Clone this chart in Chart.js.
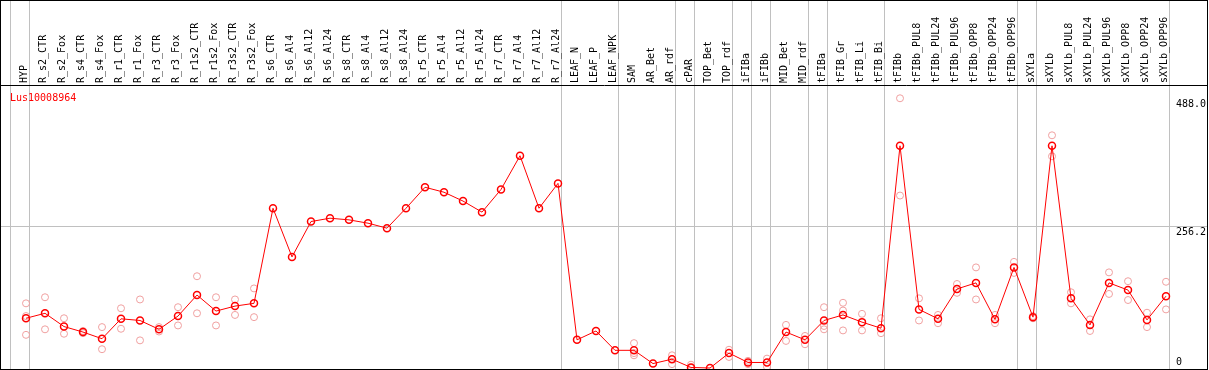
<!DOCTYPE html>
<html>
<head>
<meta charset="utf-8">
<script src="https://cdn.jsdelivr.net/npm/chart.js@4.4.1/dist/chart.umd.min.js"></script>
<style>
  body { margin: 0; background: #fff; }
  #wrap { position: relative; width: 1206px; height: 368px; border: 1px solid #000; }
  #title {
    position: absolute; left: 9px; top: 91px;
    font: 10px/12px "DejaVu Sans Mono", monospace; color: #ff0000;
  }
</style>
</head>
<body>
<div id="wrap">
  <canvas id="chart" width="1206" height="368"></canvas>
  <div id="title">Lus10008964</div>
</div>
<script>
const categories = ['HYP', 'R_s2_CTR', 'R_s2_Fox', 'R_s4_CTR', 'R_s4_Fox', 'R_r1_CTR', 'R_r1_Fox',
  'R_r3_CTR', 'R_r3_Fox', 'R_r1s2_CTR', 'R_r1s2_Fox', 'R_r3s2_CTR', 'R_r3s2_Fox',
  'R_s6_CTR', 'R_s6_Al4', 'R_s6_Al12', 'R_s6_Al24', 'R_s8_CTR', 'R_s8_Al4', 'R_s8_Al12', 'R_s8_Al24',
  'R_r5_CTR', 'R_r5_Al4', 'R_r5_Al12', 'R_r5_Al24', 'R_r7_CTR', 'R_r7_Al4', 'R_r7_Al12', 'R_r7_Al24',
  'LEAF_N', 'LEAF_P', 'LEAF_NPK', 'SAM', 'AR_Bet', 'AR_rdf', 'cPAR', 'TOP_Bet', 'TOP_rdf',
  'iFIBa', 'iFIBb', 'MID_Bet', 'MID_rdf', 'tFIBa', 'tFIB_Gr', 'tFIB_Li', 'tFIB_Bi',
  'tFIBb', 'tFIBb_PUL8', 'tFIBb_PUL24', 'tFIBb_PUL96', 'tFIBb_OPP8', 'tFIBb_OPP24', 'tFIBb_OPP96',
  'sXYLa', 'sXYLb', 'sXYLb_PUL8', 'sXYLb_PUL24', 'sXYLb_PUL96', 'sXYLb_OPP8', 'sXYLb_OPP24', 'sXYLb_OPP96'];

// mean expression per sample
const meanValues = [90, 99, 75, 65, 53, 89, 86, 70, 94, 132, 103, 112, 117,
  289, 201, 265, 271, 268, 262, 253, 289, 327, 318, 302, 282, 323, 384, 289, 334,
  51, 67, 32, 32, 8, 16, 1, 0, 27, 10, 10, 65, 51, 86, 96, 83, 72,
  402, 106, 89, 143, 154, 88, 182, 92, 402, 126, 78, 154, 141, 87, 130];

// individual replicates (null = none)
const rep1 = [117, 128, 90, 67, 74, 108, 124, 74, 110, 166, 128, 124, 144,
  null, null, null, null, null, null, null, null, null, null, null, null, null, null, null, null,
  null, null, null, 45, null, 23, 6, null, 33, 13, 17, 78, 58, 110, 118, 98, 90,
  488, 126, 96, 152, 182, 96, 192, 94, 421, 137, 88, 173, 157, 100, 156];
const rep2 = [94, 70, 62, 63, 34, 71, 50, 66, 77, 99, 77, 96, 92,
  null, null, null, null, null, null, null, null, null, null, null, null, null, null, null, null,
  null, null, null, 27, null, 7, 0, null, 20, 7, 2, 49, 43, 76, 104, 68, 63,
  312, 86, 81, 136, 124, 81, 172, 90, 383, 117, 67, 134, 123, 74, 106];
const rep3 = [60, null, null, null, null, null, null, null, null, null, null, null, null,
  null, null, null, null, null, null, null, null, null, null, null, null, null, null, null, null,
  null, null, null, 23, null, null, null, null, null, null, null, null, null, 70, 68, null, null,
  null, null, null, null, null, null, null, null, null, null, null, null, null, null, null];

// group separators sit just after these sample indices
const separatorAfter = [-1, 0, 28, 31, 34, 35, 37, 38, 39, 41, 42, 45, 52, 53, 60];
const yTickValues = [0, 256.2, 488];

const sepValues = separatorAfter.map(i => i + 0.21);
const toPoints = arr => arr.map((v, i) => ({ x: i, y: v }));
const monoFont = { family: 'DejaVu Sans Mono', size: 10 };
const gridGray = '#c0c0c0';

const repStyle = (data) => ({
  data: toPoints(data),
  showLine: false,
  pointRadius: 3.5,
  pointBorderWidth: 1,
  pointBorderColor: '#f0a0a0',
  pointBackgroundColor: 'rgba(0,0,0,0)',
  order: 2,
});

new Chart(document.getElementById('chart').getContext('2d'), {
  type: 'line',
  data: {
    datasets: [
      {
        data: toPoints(meanValues),
        borderColor: '#ff0000',
        borderWidth: 1,
        pointRadius: 3.5,
        pointBorderWidth: 1.5,
        pointBorderColor: '#ff0000',
        pointBackgroundColor: 'rgba(0,0,0,0)',
        order: 1,
      },
      repStyle(rep1),
      repStyle(rep2),
      repStyle(rep3),
    ],
  },
  options: {
    responsive: false,
    animation: false,
    devicePixelRatio: 1,
    layout: { padding: 0, autoPadding: false },
    plugins: { legend: { display: false }, tooltip: { enabled: false } },
    scales: {
      x: {
        type: 'linear',
        position: 'top',
        min: -25 / 19,
        max: 1181 / 19,
        afterBuildTicks: (scale) => {
          scale.ticks = categories.map((c, i) => ({ value: i }))
            .concat(sepValues.map(v => ({ value: v })))
            .sort((a, b) => a.value - b.value);
        },
        afterFit: (scale) => {
          scale.height = 84;
          scale.paddingLeft = 0;
          scale.paddingRight = 0;
        },
        ticks: {
          autoSkip: false,
          minRotation: 90,
          maxRotation: 90,
          padding: -82,
          labelOffset: 10,
          font: monoFont,
          color: '#000',
          callback: (value) => Number.isInteger(value) ? categories[value] : '',
        },
        grid: {
          color: (ctx) => (ctx.tick && !Number.isInteger(ctx.tick.value)) ? gridGray : 'rgba(0,0,0,0)',
          tickLength: 84,
          drawTicks: true,
        },
        border: { display: true, color: '#000' },
      },
      y: {
        type: 'linear',
        position: 'right',
        min: -1.8,
        max: 512,
        afterBuildTicks: (scale) => { scale.ticks = yTickValues.map(v => ({ value: v })); },
        afterFit: (scale) => {
          scale.width = 0;
          scale.paddingTop = 0;
          scale.paddingBottom = 0;
        },
        ticks: {
          mirror: true,
          padding: -1,
          font: monoFont,
          color: '#000',
          // labels sit left-aligned in a 5-character column
          callback: (value) => value === 0 ? ['0'.padEnd(5), ''] : ['', value.toFixed(1).padEnd(5)],
        },
        grid: {
          color: (ctx) => (ctx.tick && ctx.tick.value === 256.2) ? gridGray : 'rgba(0,0,0,0)',
          drawTicks: false,
        },
        border: { display: false },
      },
    },
  },
});
</script>
</body>
</html>
